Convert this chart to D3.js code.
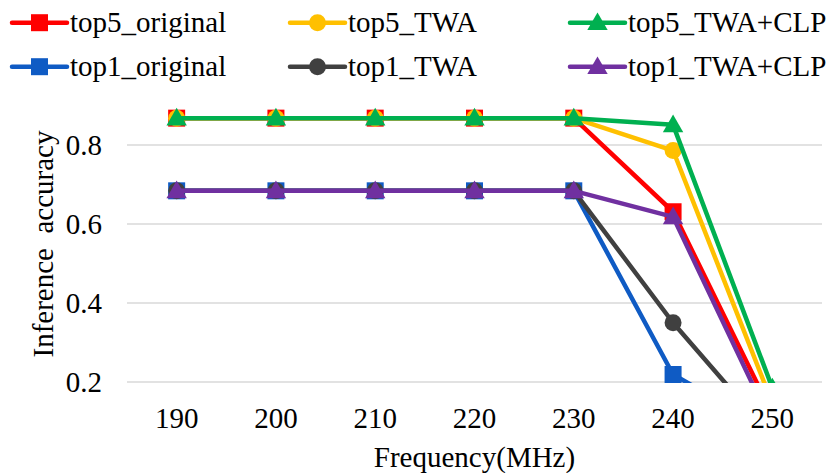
<!DOCTYPE html>
<html><head><meta charset="utf-8">
<script src="https://cdn.jsdelivr.net/npm/d3@7"></script>
<style>
body{margin:0;background:#fff}svg{display:block}
svg text, svg tspan{font-family:"Liberation Serif","Times New Roman",Tinos,serif !important;}
</style>
</head><body>
<svg id="chart" width="837" height="473"></svg>
<script>
const frequencies = [190, 200, 210, 220, 230, 240, 250];
const top5_original = [0.868, 0.868, 0.868, 0.868, 0.868, 0.631, 0.118];
const top5_TWA      = [0.868, 0.868, 0.868, 0.868, 0.868, 0.786, 0.146];
const top5_TWA_CLP  = [0.868, 0.868, 0.868, 0.868, 0.868, 0.851, 0.185];
const top1_original = [0.684, 0.684, 0.684, 0.684, 0.684, 0.219, 0.075];
const top1_TWA      = [0.684, 0.684, 0.684, 0.684, 0.684, 0.350, 0.060];
const top1_TWA_CLP  = [0.684, 0.684, 0.684, 0.684, 0.684, 0.618, 0.089];
const seriesNames = ["top5_original", "top5_TWA", "top5_TWA+CLP", "top1_original", "top1_TWA", "top1_TWA+CLP"];
const yTicks = [0.2, 0.4, 0.6, 0.8];

const seriesValues = [top5_original, top5_TWA, top5_TWA_CLP, top1_original, top1_TWA, top1_TWA_CLP];
const colors = ["#FF0000", "#FFC000", "#00B050", "#0F5BC4", "#404040", "#7030A0"];
const shapes = ["square", "circle", "triangle", "square", "circle", "triangle"];

const FONT = '"Liberation Serif"';
const FS = 29;
const svg = d3.select("#chart");
const L = 127, R = 822, T = 105.5, B = 382;

const x = d3.scaleBand().domain(frequencies).range([L, R]).paddingInner(0).paddingOuter(0);
const xc = d => x(d) + x.bandwidth() / 2;
const y = d3.scaleLinear().domain([0.2, 0.9]).range([B, T]);

function addText(px, py, str, anchor, transform) {
  const t = svg.append("text").attr("text-anchor", anchor)
    .attr("font-family", "Liberation Serif")
    .style("font-family", FONT).style("font-size", FS + "px");
  if (transform) t.attr("transform", transform); else t.attr("x", px).attr("y", py);
  t.append("tspan").attr("font-family", "Liberation Serif").style("font-family", FONT).text(str);
  return t;
}

// gridlines
svg.append("g").selectAll("line").data(yTicks).join("line")
  .attr("x1", L).attr("x2", R)
  .attr("y1", d => y(d)).attr("y2", d => y(d))
  .attr("stroke", "#d9d9d9").attr("stroke-width", 1.5);

// axes: build with d3 axes, then place labels at the svg root
const fmtY = d3.format(".1f");
const yAxis = d3.axisLeft(y).tickValues(yTicks).tickFormat(fmtY).tickSize(0).tickPadding(0);
const gy = svg.append("g").call(yAxis);
gy.select(".domain").remove();
gy.selectAll(".tick").each(function(d) {
  addText(102, y(d) + 10, fmtY(d), "end");
});
gy.selectAll(".tick text").remove();

const xAxis = d3.axisBottom(x).tickSize(0).tickPadding(0);
const gx = svg.append("g").call(xAxis);
gx.select(".domain").remove();
gx.selectAll(".tick").each(function(d) {
  addText(xc(d), 428, String(d), "middle");
});
gx.selectAll(".tick text").remove();

// axis titles
addText((L + R) / 2, 467, "Frequency(MHz)", "middle");
addText(0, 0, "Inference  accuracy", "middle", "translate(53,244) rotate(-90)").style("white-space", "pre");

// clip
svg.append("defs").append("clipPath").attr("id", "plotclip")
  .append("rect").attr("x", 0).attr("y", 0).attr("width", 837).attr("height", B + 1);

const symbolFor = s => s === "square" ? d3.symbolSquare : s === "circle" ? d3.symbolCircle : d3.symbolTriangle;
const sizeFor = s => s === "square" ? 17 * 17 : s === "circle" ? Math.PI * 8.5 * 8.5 : 180;

const line = d3.line().x((d, i) => xc(frequencies[i])).y(d => y(d));
const plot = svg.append("g").attr("clip-path", "url(#plotclip)");

seriesValues.forEach((vals, k) => {
  const g = plot.append("g");
  g.append("path").datum(vals).attr("d", line).attr("fill", "none")
    .attr("stroke", colors[k]).attr("stroke-width", 4.5).attr("stroke-linejoin", "round");
  g.selectAll("path.m").data(vals).join("path").attr("class", "m")
    .attr("transform", (d, i) => `translate(${xc(frequencies[i])},${y(d) + (shapes[k] === "triangle" ? 1.5 : 0)})`)
    .attr("d", d3.symbol().type(symbolFor(shapes[k])).size(sizeFor(shapes[k])))
    .attr("fill", colors[k]);
});

// legend
const legCols = [12, 290, 570];
const legRows = [22.7, 66.7];
seriesNames.forEach((name, k) => {
  const cx = legCols[k % 3], cy = legRows[Math.floor(k / 3)];
  svg.append("line").attr("x1", cx).attr("x2", cx + 55).attr("y1", cy).attr("y2", cy)
    .attr("stroke", colors[k]).attr("stroke-width", 4.5).attr("stroke-linecap", "round");
  svg.append("path").attr("transform", `translate(${cx + 27.5},${cy + (shapes[k] === "triangle" ? 1.5 : 0)})`)
    .attr("d", d3.symbol().type(symbolFor(shapes[k])).size(sizeFor(shapes[k])))
    .attr("fill", colors[k]);
  addText(cx + 58, cy + 9.5, name, "start");
});
</script>
</body></html>
